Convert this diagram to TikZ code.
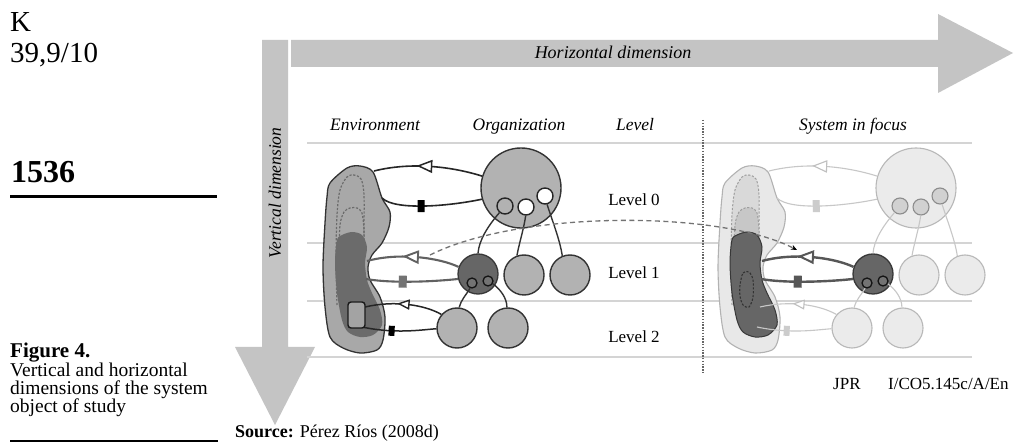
\documentclass[tikz,border=0pt]{standalone}
\usepackage{fontspec}
\setmainfont{Liberation Serif}
\usetikzlibrary{arrows.meta,decorations.markings}

\newcommand\fs[1]{\fontsize{#1}{#1}\selectfont}

% outline of the environment and its inner regions
\def\envouter{plot[smooth cycle] coordinates {(330,183) (347,168) (360,166) (373,172) (382,198) (390,212) (389,227) (382,243) (372,255) (368,267) (370,280) (380,297) (385,317) (383,340) (377,350) (360,353) (343,348) (330,337) (325,307) (323,267) (325,223) (327,197)}}
\def\envdark{plot[smooth cycle] coordinates {(337,240) (342,235) (352,232) (362,235) (367,247) (365,263) (367,280) (372,293) (380,310) (382,325) (373,335) (360,337) (348,332) (342,320) (337,293) (335,263)}}
\def\loopA{plot[smooth] coordinates {(337,305) (336,260) (337,215) (340,190) (347,177) (354,175) (361,179) (364,195) (364,240) (365,300)}}
\def\loopB{plot[smooth] coordinates {(339,255) (340,225) (344,212) (350,208) (357,208) (362,213) (364,230) (364,250)}}

% one organisation with its environment; #1 prefixes the names
\newcommand\systemparts[1]{%
  \path[outerblob] \envouter;
  \path[loopfillA] \loopA;
  \path[loopfillB] \loopB;
  \path[darkblob] \envdark;
  \path[loopover] \loopA;
  \path[loopover] \loopB;
  \coordinate (#1e0a) at (374,171);
  \coordinate (#1e0b) at (382,198);
  \coordinate (#1e1a) at (367,261);
  \coordinate (#1e1b) at (366,279);
  \coordinate (#1rt) at (365,307);
  \coordinate (#1rb) at (362,327);
  \node[bigc] (#1c0) at (521,188) {};
  \node[smallc, s1col] (#1s1) at (505,206) {};
  \node[smallc, s23col] (#1s2) at (526,207) {};
  \node[smallc, s23col] (#1s3) at (545,196) {};
  \node[midc, darkcol] (#1c1) at (478,274) {};
  \node[tinyc] (#1d1) at (472,283) {};
  \node[tinyc] (#1d2) at (488,281) {};
  \node[midc, l1col] (#1c1b) at (524,275) {};
  \node[midc, l1col] (#1c1c) at (570,275) {};
  \node[midc, l2col] (#1c2a) at (457,328) {};
  \node[midc, l2col] (#1c2b) at (508,328) {};
  % links from level 0 to level 1
  \draw[link0] (#1s1.230) .. controls (488,226) and (479,240) .. (#1c1.north);
  \draw[link0] (#1s2.268) .. controls (524,228) and (519,244) .. (#1c1b.110);
  \draw[link0] (#1s3.284) .. controls (552,220) and (560,240) .. (#1c1c.112);
  % links from level 1 to level 2
  \draw[link1] (#1d1.250) .. controls (466,295) and (461,300) .. (#1c2a.84);
  \draw[link1] (#1d2.330) .. controls (500,289) and (507,298) .. (#1c2b.93);
  % exchanges with the environment
  \draw[conn0, withtri={0.53}{tri0}{6.5}] (#1c0.163) .. controls (450,166) and (410,162) .. (#1e0a);
  \draw[conn0, withsq={0.6}{sq0}{3.5}{6}] (#1c0.196) .. controls (450,206) and (395,211) .. (#1e0b);
  \draw[conn1, withtri={0.52}{tri1}{6.5}] (#1c1.160) .. controls (440,258) and (400,252) .. (#1e1a);
  \draw[conn1, withsq={0.6}{sq1}{4}{6}] (#1c1.194) .. controls (440,281) and (395,284) .. (#1e1b);
  \draw[conn2, withtri={0.5}{tri2}{5}] (#1c2a.139) .. controls (425,305) and (395,300) .. (#1rt);
  \draw[conn2, withsq={0.6}{sq2}{3}{5}] (#1c2a.182) .. controls (420,330) and (395,334) .. (#1rb);
}

\begin{document}
\begin{tikzpicture}[x=1pt,y=-1pt,
  bigarrow/.style={fill=black!23},
  gridline/.style={draw=black!17, line width=1.8},
  bigc/.style={circle, inner sep=0, minimum size=80pt, bigcol},
  smallc/.style={circle, inner sep=0, minimum size=16pt},
  midc/.style={circle, inner sep=0, minimum size=40pt},
  tinyc/.style={circle, inner sep=0, minimum size=10pt, tinycol},
  withtri/.style n args={3}{postaction={decorate, decoration={markings,
    mark=at position #1 with {\path[#2] (#3,0) -- (-#3,0.85*#3) -- (-#3,-0.85*#3) -- cycle;}}}},
  withsq/.style n args={4}{postaction={decorate, decoration={markings,
    mark=at position #1 with {\path[#2] (-#3,-#4) rectangle (#3,#4);}}}},
  % environment shading
  outerblob/.style={fill=black!34, draw=black!80, line width=1.3},
  darkblob/.style={fill=black!58},
  loopfillA/.style={}, loopfillB/.style={},
  loopover/.style={draw=black!58, line width=1.2, dash pattern=on 2.2pt off 1.6pt},
  % organisation units
  bigcol/.style={fill=black!30, draw=black!80, line width=1.4},
  s1col/.style={fill=black!30, draw=black!85, line width=1.4},
  s23col/.style={fill=white, draw=black!85, line width=1.4},
  darkcol/.style={fill=black!60, draw=black!78, line width=1.3},
  tinycol/.style={fill=black!55, draw=black!92, line width=1.3},
  l1col/.style={fill=black!30, draw=black!80, line width=1.4},
  l2col/.style={fill=black!30, draw=black!80, line width=1.4},
  link0/.style={draw=black!80, line width=1.4},
  link1/.style={draw=black!80, line width=1.4},
  conn0/.style={draw=black!85, line width=1.6},
  conn1/.style={draw=black!62, line width=2.1},
  conn2/.style={draw=black!85, line width=1.5},
  tri0/.style={fill=white, draw=black!85, line width=1.5},
  tri1/.style={fill=white, draw=black!62, line width=1.9},
  tri2/.style={fill=white, draw=black!85, line width=1.4},
  sq0/.style={fill=black},
  sq1/.style={fill=black!55},
  sq2/.style={fill=black},
  lbl/.style={inner sep=0, anchor=base, font=\fs{17}},
  hdr/.style={inner sep=0, anchor=base, font=\fs{17.5}\itshape},
  side/.style={inner sep=0, anchor=base west}
]
\useasboundingbox (0,0) rectangle (1020,443);
\fill[white] (0,0) rectangle (1020,443);

% page margin text
\node[side, font=\fs{29}] (vol) at (10,32) {K};
\node[side, font=\fs{29}] (issue) at (10,63) {39,9/10};
\node[side, font=\fs{32}\bfseries] (page) at (11,183) {1536};
\draw[line width=3] (10,197) -- (217,197);
\node[side, font=\fs{21}\bfseries] (fig) at (10,358) {Figure 4.};
\node[side, font=\fs{19.5}] (cap1) at (10,377) {Vertical and horizontal};
\node[side, font=\fs{19.5}] (cap2) at (10,395) {dimensions of the system};
\node[side, font=\fs{19.5}] (cap3) at (10,413) {object of study};
\draw[line width=1.5] (10,441) -- (218,441);
\node[side, font=\fs{18}] (src) at (235,437) {\textbf{Source:} Pérez Ríos (2008d)};

% the two dimension arrows
\fill[bigarrow] (291,40) -- (938,40) -- (938,14) -- (1013,53) -- (938,93) -- (938,67) -- (291,67) -- cycle;
\fill[bigarrow] (262,40) -- (288,40) -- (288,347) -- (315,347) -- (275,425) -- (235,347) -- (262,347) -- cycle;
\node[hdr, font=\fs{18}\itshape] (hdim) at (613,59) {Horizontal dimension};
\node[inner sep=0, rotate=90, font=\fs{17.5}\itshape] (vdim) at (275,193) {Vertical dimension};

% level rules and the focus separator
\draw[gridline] (307,143) -- (972,143);
\draw[gridline] (307,243) -- (972,243);
\draw[gridline] (307,301) -- (972,301);
\draw[gridline] (307,357) -- (972,357);
\draw[draw=black!60, line width=1.5, dash pattern=on 1.5pt off 1.3pt] (703,120) -- (703,373);

% column headings and level names
\node[hdr] (henv) at (375,131) {Environment};
\node[hdr] (horg) at (519,131) {Organization};
\node[hdr] (hlev) at (635,131) {Level};
\node[hdr] (hsys) at (853,131) {System in focus};
\node[lbl] (lv0) at (634,206) {Level 0};
\node[lbl] (lv1) at (634,279) {Level 1};
\node[lbl] (lv2) at (634,343) {Level 2};

% full view of the organisation
\systemparts{L}
\path[draw=black!58, line width=1.2, dash pattern=on 2.2pt off 1.6pt] plot[smooth] coordinates {(348,300) (349,282) (353,273) (357,276) (358,290) (358,300)};
\node[draw=black!90, fill=black!36, line width=1.4, rounded corners=3pt, minimum width=17pt, minimum height=26pt, inner sep=0] (Lrect) at (356.5,315) {};

% the same organisation with level 1 in focus
\begin{scope}[shift={(395,0)},
  outerblob/.style={fill=black!9, draw=black!30, line width=1.1},
  loopfillA/.style={fill=black!15, draw=black!38, line width=1, dash pattern=on 2.2pt off 1.6pt},
  loopfillB/.style={fill=black!22, draw=black!38, line width=1, dash pattern=on 2.2pt off 1.6pt},
  darkblob/.style={fill=black!60, draw=black!78, line width=1},
  loopover/.style={},
  bigcol/.style={fill=black!8, draw=black!28, line width=1.1},
  s1col/.style={fill=black!18, draw=black!45, line width=1.1},
  s23col/.style={fill=black!18, draw=black!45, line width=1.1},
  l1col/.style={fill=black!8, draw=black!28, line width=1.1},
  l2col/.style={fill=black!8, draw=black!28, line width=1.1},
  link0/.style={draw=black!22, line width=1.1},
  link1/.style={draw=black!22, line width=1.1},
  conn0/.style={draw=black!22, line width=1.1},
  conn1/.style={draw=black!66, line width=2.4},
  conn2/.style={draw=black!22, line width=1.1},
  tri0/.style={fill=white, draw=black!25, line width=1.1},
  tri1/.style={fill=white, draw=black!66, line width=2},
  tri2/.style={fill=white, draw=black!25, line width=1.1},
  sq0/.style={fill=black!20},
  sq1/.style={fill=black!66},
  sq2/.style={fill=black!20}]
  \systemparts{R}
  \path[draw=black!80, line width=1.1, dash pattern=on 2.2pt off 1.6pt] plot[smooth cycle] coordinates {(345,285) (348,273) (354,272) (358,280) (358,297) (354,307) (348,305) (345,296)};
\end{scope}

% the focus moves from the full view to the level 1 system
\coordinate (da) at (430,255);
\coordinate (db) at (797,250);
\draw[draw=black!55, line width=1.3, dash pattern=on 5pt off 3.5pt, -{Stealth[length=6pt,width=5pt,black]}] (da) .. controls (520,210) and (720,210) .. (db);

% reference codes
\node[side, font=\fs{17}] (jpr) at (833,389) {JPR};
\node[side, font=\fs{17}] (code) at (888,389) {I/CO5.145c/A/En};
\end{tikzpicture}
\end{document}
